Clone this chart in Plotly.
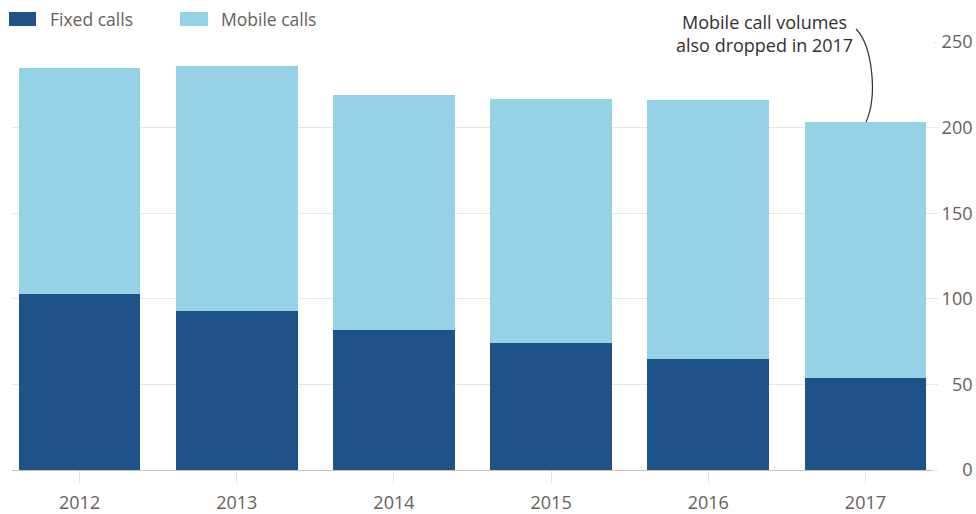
import plotly.graph_objects as go

years = ["2012", "2013", "2014", "2015", "2016", "2017"]
fixed_calls = [103, 93, 82, 74, 65, 54]
mobile_calls = [132, 143, 137, 143, 151, 149]
y_ticks = [0, 50, 100, 150, 200, 250]
y_tick_labels = ["\u2007\u20070", "\u200750", "100", "150", "200", "250"]

FONT = "'Open Sans', Lato, sans-serif"
TXT = "#66605c"
DARK = "#20528a"
LIGHT = "#95d2e6"

fig = go.Figure()
fig.add_trace(go.Bar(x=years, y=fixed_calls, name="Fixed calls", showlegend=False,
                     marker=dict(color=DARK, line=dict(width=0))))
fig.add_trace(go.Bar(x=years, y=mobile_calls, name="Mobile calls", showlegend=False,
                     marker=dict(color=LIGHT, line=dict(width=0))))

fig.update_layout(
    barmode="stack",
    bargap=0.225,
    width=976, height=514,
    margin=dict(l=12, r=43, t=42, b=44, autoexpand=False),
    paper_bgcolor="white", plot_bgcolor="white",
    font=dict(family=FONT, size=18, color=TXT),
    xaxis=dict(range=[-0.43, 5.43], showgrid=False, ticks="outside", ticklen=12,
               tickcolor="#e6e0da", showline=True, linecolor="#ccc1b7", linewidth=1,
               tickfont=dict(size=18, color=TXT), ticklabelstandoff=4,
               automargin=False),
    yaxis=dict(side="right", range=[0, 250], tickvals=y_ticks, ticktext=y_tick_labels,
               showgrid=True, gridcolor="#ebe6e1", gridwidth=1, zeroline=False,
               ticks="outside", ticklen=4, tickcolor="#ebe6e1",
               tickfont=dict(size=18, color=TXT), ticklabelstandoff=0,
               automargin=False),
)

# legend (drawn as swatches + labels)
legend_items = [("Fixed calls", DARK, -0.00326, 0.02606, 0.0391),
                ("Mobile calls", LIGHT, 0.1824, 0.2128, 0.2248)]
for name, col, x0, x1, xt in legend_items:
    fig.add_shape(type="rect", xref="paper", yref="paper", x0=x0, x1=x1,
                  y0=1.0374, y1=1.0701, fillcolor=col, line=dict(width=0))
    fig.add_annotation(xref="paper", yref="paper", x=xt, y=1.0537, text=name,
                       showarrow=False, xanchor="left", yanchor="middle",
                       font=dict(size=17.5, color=TXT, family=FONT))

fig.add_annotation(xref="paper", yref="paper", x=0.817, y=1.0187,
                   text="Mobile call volumes<br>also dropped in 2017",
                   showarrow=False, xanchor="center", yanchor="middle",
                   font=dict(size=18, color="#33302e", family=FONT), align="center")

fig.add_shape(type="path", xref="paper", yref="paper",
              path="M 0.9164,1.0304 C 0.9338,0.9930 0.9403,0.8762 0.9273,0.8131",
              line=dict(color="#33302e", width=1.2))

fig.write_html("out.html",
               config={"responsive": False, "displayModeBar": False},
               post_script="document.body.style.margin='0';document.body.style.overflow='hidden';")
